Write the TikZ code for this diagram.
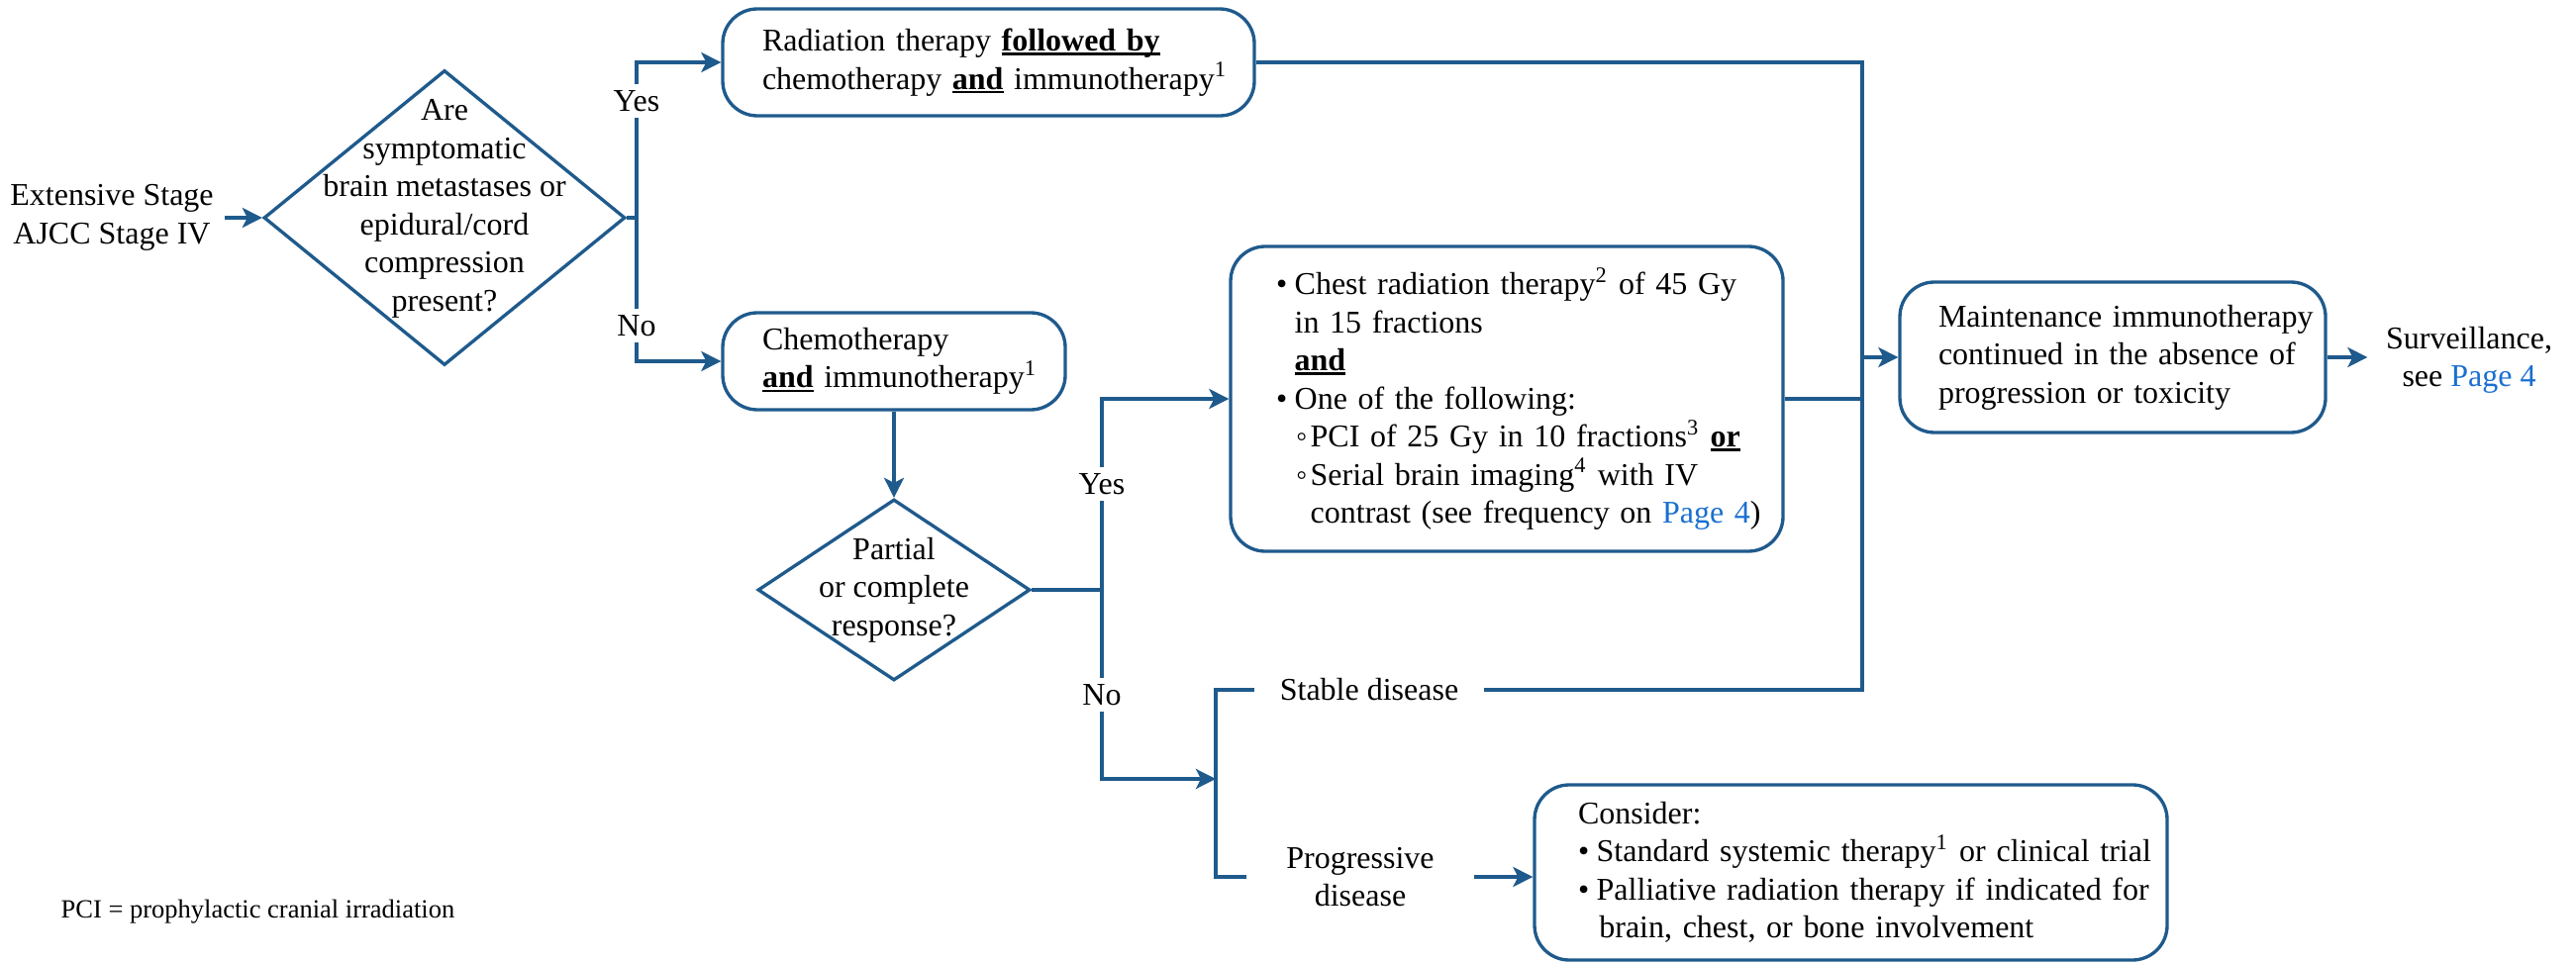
\documentclass[tikz,border=0pt]{standalone}
\usepackage{fontspec}
\setmainfont{Liberation Serif}
\usetikzlibrary{shapes.geometric,arrows.meta}
\definecolor{nccn}{HTML}{1F5A8C}
\definecolor{linkblue}{HTML}{1A6FD0}
\newcommand\mfs{\fontsize{9.6pt}{11.55pt}\selectfont}
\newcommand\ffs{\fontsize{7.95pt}{9.5pt}\selectfont}
\newcommand\ubf[1]{\setbox0\hbox{\textbf{#1}}\rlap{\rule[-1.3pt]{\wd0}{0.75pt}}\box0\relax}
\newcommand\bul{\makebox[5.6pt][l]{\textbullet}}
\newcommand\sbul{\makebox[4.4pt][l]{\char"25E6}}
\begin{document}
\begin{tikzpicture}[x=0.3pt,y=-0.3pt,
  every node/.style={font=\mfs, text=black},
  rbox/.style={draw=nccn, line width=1pt, rounded corners=10.5pt, align=left, inner ysep=0pt},
  dmd/.style={draw=nccn, line width=1pt, diamond, inner sep=0pt},
  conn/.style={draw=nccn, line width=1.05pt},
  arr/.style={conn, -{Stealth[length=6pt,width=6pt,inset=1.5pt]}},
  lbl/.style={fill=white, inner xsep=1pt, inner ysep=1.8pt},
]
\useasboundingbox (0,0) rectangle (2602,973);

% start text
\node[align=center, inner xsep=3.3pt] (start) at (113,220) {Extensive Stage\\AJCC Stage IV};

% diamond 1
\node[dmd, minimum width=109.5pt, minimum height=89.4pt] (d1) at (449,220) {};
\node[align=center, inner sep=0pt] (d1t) at (449,211) {Are\\symptomatic\\brain metastases or\\epidural/cord\\compression\\present?};

% box 1
\node[rbox, minimum width=161.1pt, minimum height=32.4pt, inner xsep=12pt, text width=137.1pt] (b1) at (998.5,63)
  {\mbox{Radiation therapy \ubf{followed by}}\\\mbox{chemotherapy \ubf{and} immunotherapy\textsuperscript{1}}};

% box 2
\node[rbox, minimum width=103.8pt, minimum height=29.4pt, inner xsep=12pt, text width=79.8pt] (b2) at (903,365)
  {\mbox{Chemotherapy}\\\mbox{\ubf{and} immunotherapy\textsuperscript{1}}};

% diamond 2
\node[dmd, minimum width=82.5pt, minimum height=54.9pt] (d2) at (903,596) {};
\node[align=center, inner sep=0pt] (d2t) at (903,596) {Partial\\or complete\\response?};

% box 3
\node[rbox, minimum width=167.4pt, minimum height=92.4pt, inner xsep=13.8pt, text width=139.8pt] (b3) at (1522,403)
  {\mbox{\bul Chest radiation therapy\textsuperscript{2} of 45 Gy}\\
   \mbox{\hspace*{5.6pt}in 15 fractions}\\
   \mbox{\hspace*{5.6pt}\ubf{and}}\\
   \mbox{\bul One of the following:}\\
   \mbox{\hspace*{6pt}\sbul PCI of 25 Gy in 10 fractions\textsuperscript{3} \ubf{or}}\\
   \mbox{\hspace*{6pt}\sbul Serial brain imaging\textsuperscript{4} with IV}\\
   \mbox{\hspace*{10.4pt}contrast (see frequency on \textcolor{linkblue}{Page 4})}};

% box 4
\node[rbox, minimum width=129pt, minimum height=45.6pt, inner xsep=11.7pt, text width=105.6pt] (b4) at (2134,361)
  {\mbox{Maintenance immunotherapy}\\\mbox{continued in the absence of}\\\mbox{progression or toxicity}};

% surveillance
\node[align=center, inner xsep=5.4pt] (surv) at (2494,364) {Surveillance,\\see \textcolor{linkblue}{Page 4}};

% stable / progressive
\node[inner xsep=7.5pt] (stable) at (1383,697) {Stable disease};
\node[align=center, inner xsep=12pt] (prog) at (1374,886) {Progressive\\disease};

% box 5
\node[rbox, minimum width=191.7pt, minimum height=53.1pt, inner xsep=13.2pt, text width=165.3pt] (b5) at (1869.5,881.5)
  {\mbox{Consider:}\\
   \mbox{\bul Standard systemic therapy\textsuperscript{1} or clinical trial}\\
   \mbox{\bul Palliative radiation therapy if indicated for}\\
   \mbox{\hspace*{6.4pt}brain, chest, or bone involvement}};

% footnote
\node[font=\ffs, anchor=base west, inner sep=0pt] (fn) at (61,927) {PCI = prophylactic cranial irradiation};

% junction coordinates
\coordinate (j1) at (643,220);
\coordinate (j2) at (1113,596);
\coordinate (bm) at (1228,787);
\coordinate (jx) at (1881,0);

% connectors
\draw[arr] (start.east) -- (d1.west);
\draw[conn] (d1.east) -- (j1);
\draw[arr] (j1) |- (b1.west);
\draw[arr] (j1) |- (b2.west);
\draw[arr] (b2.south) -- (d2.north);
\draw[conn] (d2.east) -- (j2);
\draw[arr] (j2) |- (b3.west);
\draw[arr] (j2) |- (bm);
\draw[conn] (stable.west) -| (bm) |- (prog.west);
\draw[conn] (b1.east) -| (jx |- stable.east) -- (stable.east);
\draw[conn] (b3.east) -- (b3.east -| jx);
\draw[arr] (b4.west -| jx) -- (b4.west);
\draw[arr] (prog.east) -- (prog.east -| b5.west);
\draw[arr] (b4.east) -- (b4.east -| surv.west);

% labels
\node[lbl] (yes1) at (643,102) {Yes};
\node[lbl] (no1) at (643,329) {No};
\node[lbl] (yes2) at (1113,489) {Yes};
\node[lbl] (no2) at (1113,702) {No};
\end{tikzpicture}
\end{document}
